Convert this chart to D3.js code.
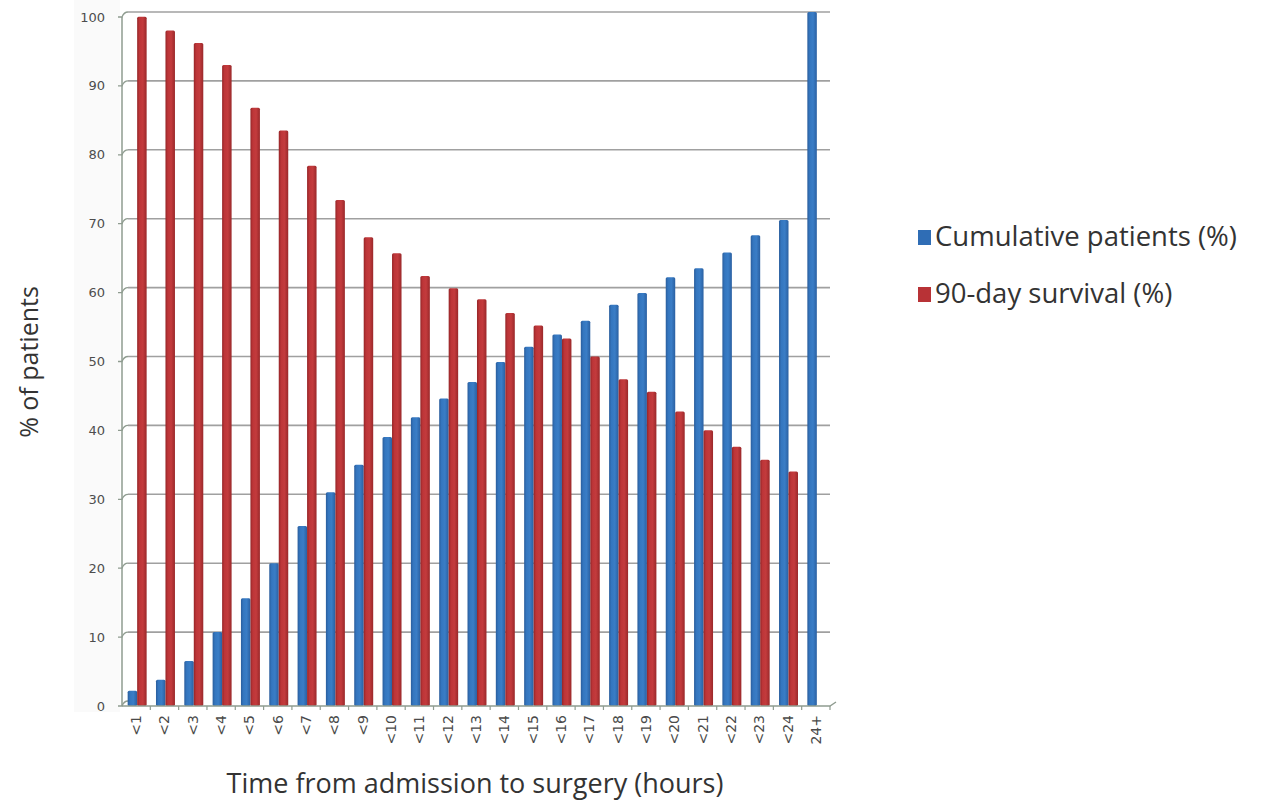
<!DOCTYPE html>
<html>
<head>
<meta charset="utf-8">
<script src="https://cdn.jsdelivr.net/npm/d3@7"></script>
<style>
  html, body { margin: 0; padding: 0; background: #fff; }
  svg { display: block; }
</style>
</head>
<body>
<svg id="chart" width="1270" height="802"></svg>
<script>
// Hours from admission to surgery
const categories = ["<1","<2","<3","<4","<5","<6","<7","<8","<9","<10","<11","<12",
  "<13","<14","<15","<16","<17","<18","<19","<20","<21","<22","<23","<24","24+"];

// Cumulative share of patients operated on (%)
const cumulativePatients = [1.5, 3.1, 5.8, 10.0, 14.9, 20.0, 25.4, 30.3, 34.3, 38.3, 41.2, 43.9,
  46.3, 49.2, 51.4, 53.2, 55.2, 57.5, 59.2, 61.5, 62.8, 65.1, 67.6, 69.8, 100];

// 90-day survival (%); none reported for 24+
const survival90 = [99.3, 97.3, 95.5, 92.3, 86.1, 82.8, 77.7, 72.7, 67.3, 65.0, 61.7, 59.9,
  58.3, 56.3, 54.5, 52.6, 50.0, 46.7, 44.9, 42.0, 39.3, 36.9, 35.0, 33.3, null];

const yTicks = [0, 10, 20, 30, 40, 50, 60, 70, 80, 90, 100];

const seriesNames = ["Cumulative patients (%)", "90-day survival (%)"];
const seriesKeys = ["cum", "surv"];

const rows = categories.map((c, i) => ({ cat: c, cum: cumulativePatients[i], surv: survival90[i] }));

const svg = d3.select("#chart");
const labelFont = "'DejaVu Sans', Verdana, sans-serif";
const titleFont = "'Open Sans', 'Noto Sans', sans-serif";

// plot frame
const plotLeft = 122, plotRight = 830, plotTop = 12, plotBase = 701;
const depth = { dx: 6, dy: 5 };   // offset of the back wall (pseudo 3-D)

const x = d3.scaleBand().domain(categories).range([plotLeft, plotRight]).paddingInner(0).paddingOuter(0);
const x1 = d3.scaleBand().domain(seriesKeys)
  .range([x.bandwidth() * 0.2, x.bandwidth() * 0.87]).padding(0);
const y = d3.scaleLinear().domain([0, 100]).range([plotBase, plotTop]);

// gradients giving the bars a rounded look
const defs = svg.append("defs");
function grad(id, stops) {
  const g = defs.append("linearGradient").attr("id", id)
    .attr("x1", "0%").attr("x2", "100%").attr("y1", "0%").attr("y2", "0%");
  stops.forEach(([o, c]) => g.append("stop").attr("offset", o).attr("stop-color", c));
}
grad("g-cum", [["0%", "#2a5d9c"], ["25%", "#3476bf"], ["60%", "#3a7dc6"], ["100%", "#2a60a2"]]);
grad("g-surv", [["0%", "#952527"], ["25%", "#bd3538"], ["60%", "#c33b3d"], ["100%", "#9a282a"]]);
const colour = { cum: "#2f6db5", surv: "#b83236" };

// light panel behind the value labels
svg.append("rect").attr("x", 74).attr("y", 0).attr("width", 46).attr("height", 712).attr("fill", "#fafafa");

// gridlines on the back wall, with short slanted connectors to the axis ticks
const grid = svg.append("g");
yTicks.forEach(t => {
  const yy = y(t);
  if (t > 0) {
    grid.append("line")
      .attr("x1", plotLeft + depth.dx).attr("x2", plotRight)
      .attr("y1", yy).attr("y2", yy)
      .attr("stroke", "#a0a0a0").attr("stroke-width", 1.6);
  }
  grid.append("path")
    .attr("d", `M${plotLeft - 4},${yy + depth.dy} L${plotLeft},${yy + depth.dy} Q${plotLeft + 2},${yy} ${plotLeft + depth.dx},${yy}`)
    .attr("fill", "none").attr("stroke", "#8f9c90").attr("stroke-width", 1.3);
});

// y axis line
svg.append("line").attr("x1", plotLeft).attr("x2", plotLeft)
  .attr("y1", y(100) + depth.dy).attr("y2", plotBase + depth.dy)
  .attr("stroke", "#8f9c90").attr("stroke-width", 1.5);

// y tick labels
svg.append("g").selectAll("text").data(yTicks).join("text")
  .attr("x", 105).attr("y", d => y(d) + depth.dy + 4.5)
  .attr("text-anchor", "end")
  .attr("font-family", labelFont).attr("font-size", 13)
  .attr("fill", "#4d4d4d")
  .text(d => d);

// bars
const groups = svg.append("g").selectAll("g").data(rows).join("g")
  .attr("transform", d => `translate(${x(d.cat)},0)`);

groups.selectAll("rect")
  .data(d => seriesKeys.filter(k => d[k] != null).map(k => ({ key: k, value: d[k] })))
  .join("rect")
  .attr("x", d => x1(d.key))
  .attr("width", x1.bandwidth())
  .attr("y", d => y(d.value))
  .attr("height", d => plotBase + depth.dy - y(d.value))
  .attr("rx", 1.5)
  .attr("fill", d => `url(#g-${d.key})`);

// x axis floor edge
const floorY = plotBase + depth.dy;
svg.append("path")
  .attr("d", `M${plotLeft},${floorY} L${plotRight},${floorY} L${plotRight + 6},${floorY - 4}`)
  .attr("fill", "none").attr("stroke", "#8f9c90").attr("stroke-width", 1.4);

// category boundary ticks
svg.append("g").selectAll("line").data(categories).join("line")
  .attr("x1", d => x(d) + x.step())
  .attr("x2", d => x(d) + x.step())
  .attr("y1", floorY).attr("y2", floorY + 4)
  .attr("stroke", "#8f9c90").attr("stroke-width", 1.2);

// category labels, rotated
svg.append("g").selectAll("text").data(categories).join("text")
  .attr("transform", d => `translate(${x(d) + x.bandwidth() / 2 + 5},${floorY + 9}) rotate(-90)`)
  .attr("text-anchor", "end")
  .attr("font-family", labelFont).attr("font-size", 14)
  .attr("fill", "#4a4a4a")
  .text(d => d);

// axis titles
svg.append("text")
  .attr("transform", "translate(38,362) rotate(-90)")
  .attr("text-anchor", "middle")
  .attr("font-family", titleFont).attr("font-size", 25)
  .attr("fill", "#333")
  .text("% of patients");

svg.append("text")
  .attr("x", 475).attr("y", 793)
  .attr("text-anchor", "middle")
  .attr("font-family", titleFont).attr("font-size", 27)
  .attr("fill", "#333")
  .text("Time from admission to surgery (hours)");

// legend
const legend = svg.append("g").attr("transform", "translate(918,230)");
seriesKeys.forEach((k, i) => {
  const g = legend.append("g").attr("transform", `translate(0,${i * 57})`);
  g.append("rect").attr("width", 13).attr("height", 15).attr("fill", colour[k]);
  g.append("text").attr("x", 17).attr("y", 16)
    .attr("font-family", titleFont).attr("font-size", 27.5)
    .attr("fill", "#333")
    .text(seriesNames[i]);
});
</script>
</body>
</html>
